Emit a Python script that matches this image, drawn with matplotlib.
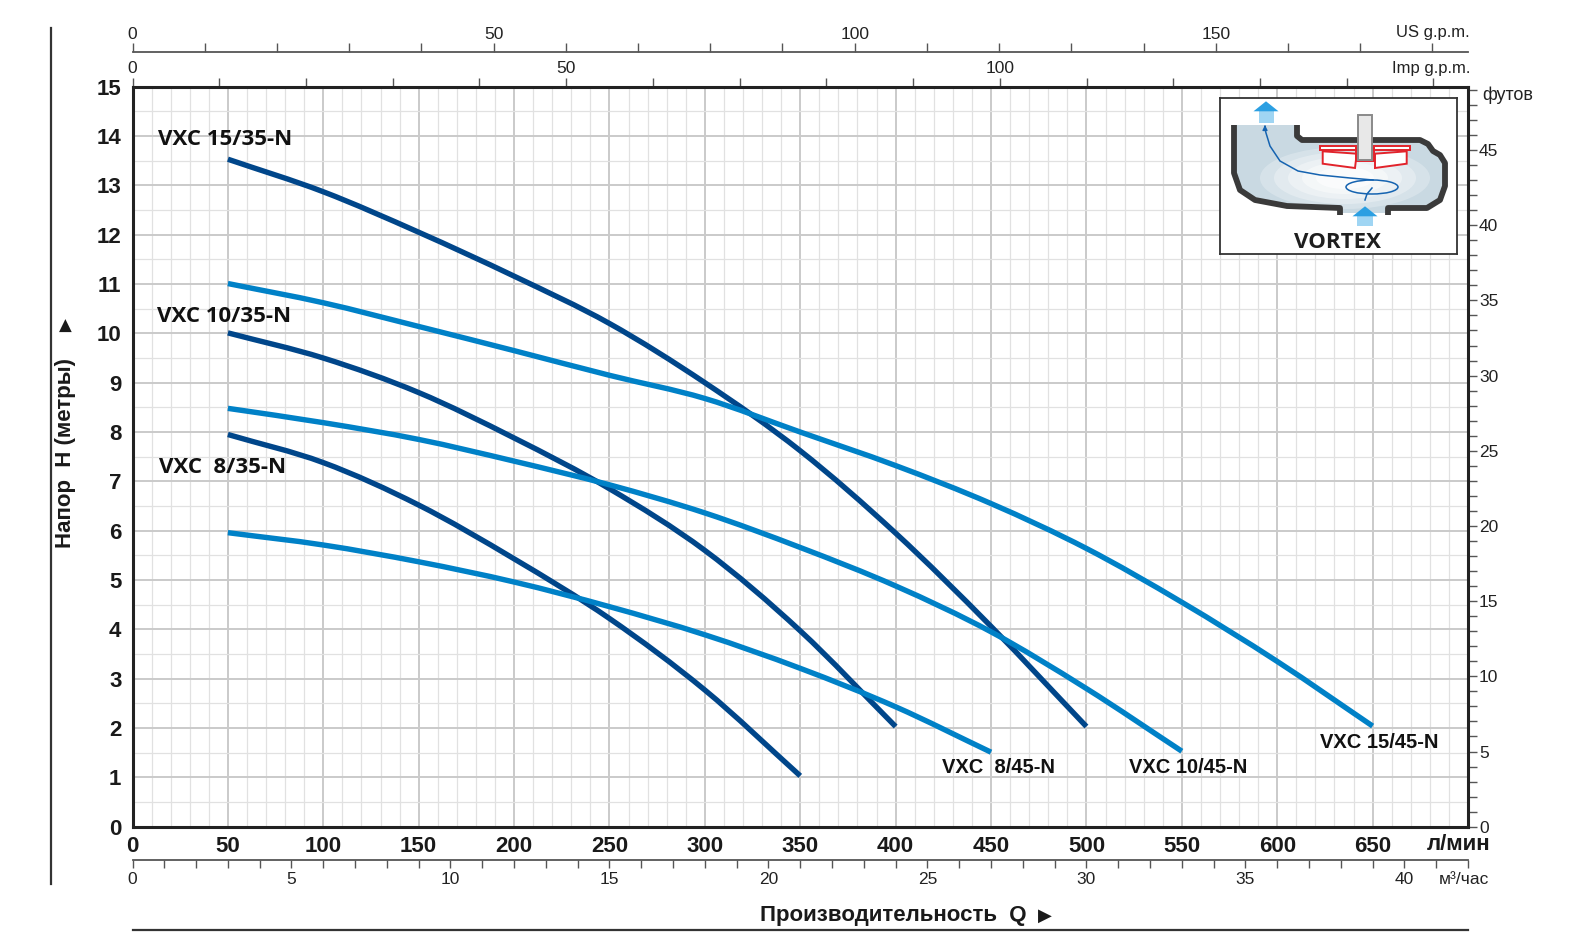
import numpy as np
import matplotlib
matplotlib.use('Agg')
import matplotlib.pyplot as plt
from matplotlib.ticker import MultipleLocator, FixedLocator
from matplotlib.patches import Polygon, Rectangle, Ellipse, PathPatch
from matplotlib.path import Path
from matplotlib.lines import Line2D

# ---------------- data (Q in l/min, H in metres) ----------------
q_15_35 = [50, 100, 150, 200, 250, 300, 350, 400, 450, 500]
h_15_35 = [13.53, 12.87, 12.05, 11.16, 10.2, 9.0, 7.62, 5.95, 4.06, 2.03]

q_15_45 = [50, 100, 150, 200, 250, 300, 350, 400, 450, 500, 550, 600, 650]
h_15_45 = [11.01, 10.62, 10.14, 9.65, 9.15, 8.68, 8.0, 7.32, 6.55, 5.64, 4.55, 3.35, 2.04]

q_10_35 = [50, 100, 150, 200, 250, 300, 350, 400]
h_10_35 = [10.01, 9.5, 8.8, 7.88, 6.85, 5.6, 3.97, 2.03]

q_10_45 = [50, 100, 150, 200, 250, 300, 350, 400, 450, 500, 550]
h_10_45 = [8.48, 8.19, 7.85, 7.41, 6.93, 6.36, 5.66, 4.88, 3.95, 2.8, 1.53]

q_8_35 = [50, 100, 150, 200, 250, 300, 350]
h_8_35 = [7.95, 7.38, 6.52, 5.43, 4.22, 2.77, 1.03]

q_8_45 = [50, 100, 150, 200, 250, 300, 350, 400, 450]
h_8_45 = [5.96, 5.71, 5.37, 4.96, 4.46, 3.89, 3.21, 2.43, 1.51]

names = ['VXC 15/35-N', 'VXC 15/45-N', 'VXC 10/35-N', 'VXC 10/45-N', 'VXC  8/35-N', 'VXC  8/45-N']

x_tick_vals = list(range(0, 651, 50))
y_tick_vals = list(range(0, 16))
us_labels = [0, 50, 100, 150]
imp_labels = [0, 50, 100]
m3_labels = [0, 5, 10, 15, 20, 25, 30, 35, 40]
ft_labels = [0, 5, 10, 15, 20, 25, 30, 35, 40, 45]

# ---------------- style ----------------
W, H = 1577, 939
DARK = '#00468a'
LIGHT = '#0081c7'
NARROW = ['Liberation Sans Narrow', 'Liberation Sans', 'DejaVu Sans']
BOLD = ['Liberation Sans', 'DejaVu Sans']
OPEN = ['Open Sans', 'DejaVu Sans']
AXC = '#555555'

fig = plt.figure(figsize=(W / 100, H / 100), dpi=100)

L, R, T, B = 132.5, 1468, 86.7, 826.7
ax = fig.add_axes([L / W, 1 - B / H, (R - L) / W, (B - T) / H])
ax.set_xlim(0, 700)
ax.set_ylim(0, 15)

ax.xaxis.set_major_locator(FixedLocator(x_tick_vals))
ax.xaxis.set_minor_locator(MultipleLocator(10))
ax.yaxis.set_major_locator(FixedLocator(y_tick_vals))
ax.yaxis.set_minor_locator(MultipleLocator(0.5))
ax.set_axisbelow(True)
ax.grid(which='major', color='#cacaca', lw=1.4)
ax.grid(which='minor', color='#e1e1e1', lw=0.9)
ax.tick_params(which='both', length=0)
ax.tick_params(axis='x', pad=7)
ax.tick_params(axis='y', pad=8)
for lab in ax.get_xticklabels() + ax.get_yticklabels():
    lab.set_fontfamily(NARROW)
    lab.set_fontweight('bold')
    lab.set_fontsize(16)
    lab.set_color('#1a1a1a')
for s in ax.spines.values():
    s.set_linewidth(2.2)
    s.set_color('#222222')


def smooth_path(q, h):
    """Cubic Bezier (Catmull-Rom) path through the read points."""
    p = np.column_stack([q, h]).astype(float)
    n = len(p)
    verts = [p[0]]
    codes = [Path.MOVETO]
    for i in range(n - 1):
        p1, p2 = p[i], p[i + 1]
        p0 = p[i - 1] if i > 0 else 2 * p1 - p2
        p3 = p[i + 2] if i + 2 < n else 2 * p2 - p1
        c1 = p1 + (p2 - p0) / 6.0
        c2 = p2 - (p3 - p1) / 6.0
        verts += [c1, c2, p2]
        codes += [Path.CURVE4] * 3
    return Path(verts, codes)


series = [
    (q_15_35, h_15_35, DARK),
    (q_15_45, h_15_45, LIGHT),
    (q_10_35, h_10_35, DARK),
    (q_10_45, h_10_45, LIGHT),
    (q_8_35, h_8_35, DARK),
    (q_8_45, h_8_45, LIGHT),
]
for q, h, c in series:
    ax.add_patch(PathPatch(smooth_path(q, h), fill=False, ec=c, lw=3.9,
                           capstyle='butt', joinstyle='round', zorder=3))

# curve labels
lab_kw = dict(fontweight='bold', color='#111111', va='center', ha='left')
ax.text(13.4, 13.92, names[0], fontfamily=OPEN, fontsize=16, **lab_kw)
ax.text(12.9, 10.35, names[2], fontfamily=OPEN, fontsize=16, **lab_kw)
ax.text(13.9, 7.29, names[4], fontfamily=OPEN, fontsize=16, **lab_kw)
ax.text(424.5, 1.19, names[5], fontfamily=NARROW, fontsize=14.5, **lab_kw)
ax.text(522.5, 1.19, names[3], fontfamily=NARROW, fontsize=14.5, **lab_kw)
ax.text(622.6, 1.70, names[1], fontfamily=NARROW, fontsize=14.5, **lab_kw)

# ---------------- secondary scales ----------------
US, IMP = 3.785411784, 4.54609
M_TO_FT = 3.28084
SEC_FS = 12.5

us = ax.secondary_xaxis(1 + 34.4 / (B - T), functions=(lambda x: x / US, lambda x: x * US))
us.xaxis.set_major_locator(FixedLocator(us_labels))
us.xaxis.set_minor_locator(MultipleLocator(10))
us.tick_params(which='both', direction='out', length=6.5, width=1.0, color=AXC, pad=1,
               labelsize=SEC_FS, labelcolor='#222222')
us.spines['top'].set_color(AXC)
us.spines['top'].set_linewidth(1.3)
for lab in us.get_xticklabels():
    lab.set_fontfamily(NARROW)

imp = ax.secondary_xaxis('top', functions=(lambda x: x / IMP, lambda x: x * IMP))
imp.xaxis.set_major_locator(FixedLocator(imp_labels))
imp.xaxis.set_minor_locator(MultipleLocator(10))
imp.tick_params(which='both', direction='out', length=6.5, width=1.0, color=AXC, pad=1.5,
                labelsize=SEC_FS, labelcolor='#222222')
imp.spines['top'].set_visible(False)
for lab in imp.get_xticklabels():
    lab.set_fontfamily(NARROW)

m3 = ax.secondary_xaxis(-33.3 / (B - T), functions=(lambda x: x * 0.06, lambda x: x / 0.06))
m3.xaxis.set_major_locator(FixedLocator(m3_labels))
m3.xaxis.set_minor_locator(MultipleLocator(1))
m3.tick_params(which='both', direction='out', length=6, width=1.0, color=AXC, pad=3,
               labelsize=SEC_FS, labelcolor='#222222')
m3.spines['bottom'].set_color(AXC)
m3.spines['bottom'].set_linewidth(1.3)
for lab in m3.get_xticklabels():
    lab.set_fontfamily(NARROW)

ft = ax.secondary_yaxis('right', functions=(lambda x: x * M_TO_FT, lambda x: x / M_TO_FT))
ft.yaxis.set_major_locator(FixedLocator(ft_labels))
ft.yaxis.set_minor_locator(MultipleLocator(1))
ft.tick_params(which='both', direction='out', length=6.5, width=1.0, color=AXC, pad=1.5,
               labelsize=SEC_FS, labelcolor='#222222')
ft.spines['right'].set_visible(False)
for lab in ft.get_yticklabels():
    lab.set_fontfamily(NARROW)

# ---------------- figure texts / frame lines ----------------
def fx(px):
    return px / W


def fy(py):
    return 1 - py / H


fig.add_artist(Line2D([fx(50.5), fx(50.5)], [fy(28), fy(884)], color='#333333', lw=1.6))
fig.add_artist(Line2D([fx(L), fx(R)], [fy(930), fy(930)], color='#333333', lw=1.6))

fig.text(fx(1470), fy(33), 'US g.p.m.', ha='right', va='center', fontsize=12,
         fontfamily=NARROW, color='#222222')
fig.text(fx(1470), fy(69), 'Imp g.p.m.', ha='right', va='center', fontsize=12,
         fontfamily=NARROW, color='#222222')
fig.text(fx(1482), fy(95), 'футов', ha='left', va='center', fontsize=13,
         fontfamily=NARROW, color='#222222')
fig.text(fx(1490), fy(845), 'л/мин', ha='right', va='center', fontsize=16,
         fontweight='bold', fontfamily=BOLD, color='#1a1a1a')
fig.text(fx(1439), fy(879), 'м³/час', ha='left', va='center', fontsize=12.5,
         fontfamily=NARROW, color='#222222')
fig.text(fx(65), fy(453), 'Напор  H (метры)', rotation=90, ha='center', va='center',
         fontsize=16, fontweight='bold', fontfamily=BOLD, color='#1a1a1a')
fig.text(fx(65), fy(326), '▲', ha='center', va='center', fontsize=12,
         fontfamily=['DejaVu Sans'], color='#1a1a1a')
fig.text(fx(1027), fy(916), 'Производительность  Q', ha='right', va='center', fontsize=16,
         fontweight='bold', fontfamily=BOLD, color='#1a1a1a')
fig.text(fx(1045), fy(916), '▶', ha='center', va='center', fontsize=13,
         fontfamily=['DejaVu Sans'], color='#1a1a1a')

# ---------------- VORTEX inset ----------------
ix0, iy0, ix1, iy1 = 1220, 98, 1457, 254
iax = fig.add_axes([fx(ix0), fy(iy1), (ix1 - ix0) / W, (iy1 - iy0) / H])
iax.set_xlim(0, ix1 - ix0)
iax.set_ylim(iy1 - iy0, 0)
iax.set_xticks([])
iax.set_yticks([])
iax.set_facecolor('white')
for s in iax.spines.values():
    s.set_linewidth(1.3)
    s.set_color('#333333')

interior = [(14, 27), (14, 75), (20, 92), (35, 102), (67, 108), (120, 110), (120, 115),
            (168, 115), (168, 110), (207, 110), (220, 102), (225, 88), (225, 65), (220, 57),
            (213, 53), (208, 45), (200, 42), (80, 42), (77, 38), (77, 27)]
iax.add_patch(Polygon(interior, closed=True, fc='#c9d9e2', ec='none', zorder=1))
for k, a in enumerate([0.25, 0.3, 0.35, 0.45, 0.6]):
    iax.add_patch(Ellipse((125, 80), 170 - 28 * k, 62 - 10 * k, fc='white', ec='none',
                          alpha=a, zorder=1.5))

wall_l = [(14, 27), (14, 75), (20, 92), (35, 102), (67, 108), (120, 110), (120, 117)]
wall_r = [(168, 117), (168, 110), (207, 110), (220, 102), (225, 88), (225, 65), (220, 57),
          (213, 53), (208, 46), (200, 42), (82, 42), (77, 38), (77, 27)]
for wl in (wall_l, wall_r):
    xs, ys = zip(*wl)
    iax.plot(xs, ys, color='#3a3a3a', lw=4.2, solid_joinstyle='round',
             solid_capstyle='butt', zorder=3)

iax.add_patch(Rectangle((138, 17), 14, 45, fc='#e8e8e8', ec='#8a8a8a', lw=1.4, zorder=5))
RED = '#e2232b'
iax.add_patch(Polygon([(100, 48.3), (190, 48.3), (190, 52.3), (100, 52.3)], closed=True,
                      fc='white', ec=RED, lw=1.4, zorder=4))
iax.add_patch(Polygon([(102.7, 53.3), (136.7, 55.7), (135, 70), (102.7, 65.7)], closed=True,
                      fc='white', ec=RED, lw=1.4, zorder=4))
iax.add_patch(Polygon([(155, 55.7), (186.7, 53.3), (186.7, 65.7), (155, 70)], closed=True,
                      fc='white', ec=RED, lw=1.4, zorder=4))
iax.add_patch(Rectangle((136, 50), 18, 13, fc='none', ec=RED, lw=1.4, zorder=4))

flow = [(153, 82), (130, 80), (100, 77), (78, 73), (60, 63), (50, 48), (46, 35), (45, 31)]
xs, ys = zip(*flow)
iax.plot(xs, ys, color='#1563b0', lw=1.1, zorder=6)
iax.annotate('', xy=(45, 27), xytext=(45, 32),
             arrowprops=dict(arrowstyle='-|>', color='#1563b0', lw=1.0, mutation_scale=7),
             zorder=6)
iax.add_patch(Ellipse((152, 89), 52, 14, fc='none', ec='#1563b0', lw=1.1, zorder=6))
iax.plot([145, 147, 152], [102, 96, 90], color='#1563b0', lw=1.1, zorder=6)


def up_arrow(cx, tip, base, shaft_end, hw, sw):
    iax.add_patch(Polygon([(cx - sw, base), (cx + sw, base), (cx + sw, shaft_end),
                           (cx - sw, shaft_end)], closed=True, fc='#9fd5f3', ec='none',
                          zorder=7))
    iax.add_patch(Polygon([(cx - hw, base), (cx, tip), (cx + hw, base)], closed=True,
                          fc='#2b9fe2', ec='none', zorder=7))


up_arrow(46, 3.3, 13.3, 25, 12.5, 7.5)
up_arrow(145, 108.3, 118.3, 128.3, 12.5, 7.7)

iax.text(118, 145, 'VORTEX', ha='center', va='center', fontsize=16, fontweight='bold',
         fontfamily=OPEN, color='#1e1e1e', zorder=8)

fig.savefig('out.png', dpi=100)
